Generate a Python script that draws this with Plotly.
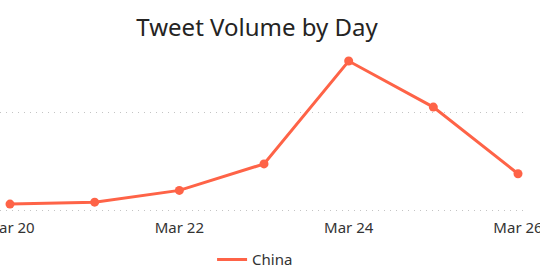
import plotly.graph_objects as go

dates = ["2020-03-20", "2020-03-21", "2020-03-22", "2020-03-23",
         "2020-03-24", "2020-03-25", "2020-03-26"]
china = [600, 800, 2000, 4700, 15200, 10500, 3700]
series_name = "China"
title_text = "Tweet Volume by Day"
color = "#FE6347"

fig = go.Figure()
fig.add_trace(go.Scatter(
    x=dates, y=china, name=series_name, mode="lines+markers",
    line=dict(color=color, width=3),
    marker=dict(size=9, color=color),
    showlegend=False,
))
fig.add_trace(go.Scatter(
    x=[None], y=[None], name=series_name, mode="lines",
    line=dict(color=color, width=3), showlegend=True,
))

fig.update_layout(
    width=540, height=272,
    margin=dict(l=0, r=13, t=45, b=55, autoexpand=False),
    paper_bgcolor="white", plot_bgcolor="white",
    font=dict(family="Noto Sans, Open Sans, sans-serif", color="#333333"),
    title=dict(text=title_text, x=0.476, xref="container", xanchor="center",
               y=0.9, yref="container", yanchor="middle",
               font=dict(size=24, color="#252423")),
    showlegend=True,
    legend=dict(orientation="h", x=0.484, xanchor="center",
                yref="container", y=0.045, yanchor="middle",
                font=dict(size=15, color="#333333")),
    xaxis=dict(type="date", range=["2020-03-19 21:10", "2020-03-26 02:33"],
               tickformat="%b %d", dtick=2 * 86400000, tick0="2020-03-20",
               showgrid=False, zeroline=False, showline=False, ticks="",
               ticklabeloverflow="allow", automargin=False,
               tickfont=dict(size=15, color="#333333")),
    yaxis=dict(range=[-714, 16837], dtick=10000, tick0=0, showticklabels=False,
               showgrid=True, gridcolor="#C4C4C4", griddash="1px,5px", gridwidth=1,
               zeroline=False, showline=False, automargin=False),
)

fig.write_html("out.html")
